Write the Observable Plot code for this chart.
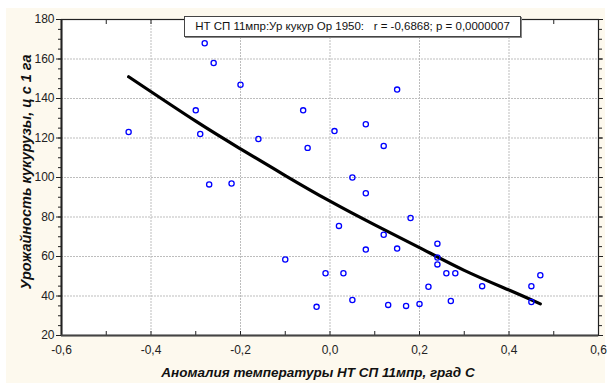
<!DOCTYPE html>
<html>
<head>
<meta charset="utf-8">
<script src="https://cdn.jsdelivr.net/npm/d3@7"></script>
<script src="https://cdn.jsdelivr.net/npm/@observablehq/plot@0.6"></script>
<style>
  body { margin: 0; background: #fff; font-family: Arial, "Liberation Sans", sans-serif; }
  #wrap { position: relative; width: 610px; height: 383px; overflow: hidden; background: #fff; }
  #cream { position: absolute; left: 6px; top: 8px; width: 599px; height: 375px; background: #fdf9ee; }
  #chart { position: absolute; left: 0; top: 0; }
  #title { position: absolute; left: 184px; top: 16px; width: 335px; height: 19px; border: 1px solid #444;
           background: #fff; font-size: 11.5px; line-height: 19px; text-align: center; white-space: pre; color: #111;
           box-shadow: 1px 1px 0 #888; }
  #ylab { position: absolute; left: 26px; top: 172px; transform: translate(-50%, -50%) rotate(-90deg);
          font-size: 14.5px; font-weight: bold; font-style: italic; white-space: nowrap; color: #111; }
  #xlab { position: absolute; left: 318px; top: 372px; transform: translate(-50%, -50%);
          font-size: 13.5px; font-weight: bold; font-style: italic; white-space: nowrap; color: #111; }
</style>
</head>
<body>
<div id="wrap">
  <div id="cream"></div>
  <div id="chart"></div>
  <div id="title">НТ СП 11мпр:Ур кукур Ор 1950:   r = -0,6868; p = 0,0000007</div>
  <div id="ylab">Урожайность кукурузы, ц с 1 га</div>
  <div id="xlab">Аномалия температуры НТ СП 11мпр, град С</div>
</div>
<script>
// Observations: temperature anomaly (x) and maize yield (y)
const anomaly = [-0.45, -0.28, -0.26, -0.20, -0.30, -0.29, -0.16, -0.27, -0.22, -0.10,
                 -0.06, -0.05, 0.01, 0.08, 0.15, 0.12, 0.05, 0.08, 0.18, 0.02,
                 0.12, 0.08, 0.15, -0.01, 0.03, -0.03, 0.05, 0.13, 0.17, 0.20,
                 0.22, 0.24, 0.24, 0.24, 0.26, 0.28, 0.27, 0.34, 0.45, 0.47, 0.45];
const yieldVals = [123, 168, 158, 147, 134, 122, 119.5, 96.5, 97, 58.5,
                   134, 115, 123.5, 127, 144.5, 116, 100, 92, 79.5, 75.5,
                   71, 63.5, 64, 51.5, 51.5, 34.5, 38, 35.5, 35, 36,
                   44.7, 66.5, 59.5, 56, 51.5, 51.5, 37.5, 45, 45, 50.5, 37];
// Fitted curve
const fitX = [-0.45, -0.3, -0.2, -0.1, 0, 0.1, 0.2, 0.3, 0.4, 0.47];
const fitY = [151, 128.5, 114.5, 101, 88, 76, 64.5, 53, 43, 36];
// Ticks
const xMajor = [-0.6, -0.4, -0.2, 0, 0.2, 0.4, 0.6];
const xMinor = [-0.5, -0.4, -0.3, -0.2, -0.1, 0, 0.1, 0.2, 0.3, 0.4, 0.5];
const xGrid = [-0.4, -0.2, 0, 0.2, 0.4];
const yMajor = [20, 40, 60, 80, 100, 120, 140, 160, 180];
const yGrid = [40, 60, 80, 100, 120, 140, 160];
const yMinor = d3.range(20, 181, 5);

const pts = anomaly.map((x, i) => ({x, y: yieldVals[i]}));
const fit = fitX.map((x, i) => ({x, y: fitY[i]}));
const fmt = d => d.toFixed(1).replace(".", ",").replace("-0,0", "0,0");

const plot = Plot.plot({
  width: 610, height: 383,
  marginLeft: 61, marginRight: 12, marginTop: 19, marginBottom: 48,
  style: {background: "transparent", fontFamily: "Arial, 'Liberation Sans', sans-serif", fontSize: "11.5px", color: "#222"},
  x: {domain: [-0.6, 0.6]},
  y: {domain: [20, 180]},
  marks: [
    Plot.frame({fill: "white", stroke: "none"}),
    Plot.gridX(xGrid, {stroke: "#bdbdbd", strokeOpacity: 1, strokeDasharray: "2,1"}),
    Plot.gridY(yGrid, {stroke: "#bdbdbd", strokeOpacity: 1, strokeDasharray: "2,1"}),
    Plot.axisY({ticks: yMajor, tickSize: 5, tickPadding: 2, tickFormat: d => String(d), stroke: "#222", label: null, fontSize: 12}),
    Plot.axisY({ticks: yMinor, tickSize: 3, tickFormat: () => "", stroke: "#222", label: null}),
    Plot.axisY({anchor: "right", ticks: yMinor, tickSize: 3, tickFormat: () => "", stroke: "#222", label: null}),
    Plot.axisY({anchor: "right", ticks: yMajor, tickSize: 4, tickFormat: () => "", stroke: "#222", label: null}),
    Plot.axisX({ticks: xMajor, tickSize: 0, tickPadding: 10, tickFormat: fmt, label: null, fontSize: 12}),
    Plot.axisX({ticks: xMinor, tickSize: -4, tickFormat: () => "", stroke: "#222", label: null}),
    Plot.axisX({anchor: "top", ticks: xMinor, tickSize: -4, tickFormat: () => "", stroke: "#222", label: null}),
    Plot.frame({stroke: "#222", strokeWidth: 1.2}),
    Plot.ruleX([-0.6], {stroke: "#222", strokeWidth: 2}),
    Plot.ruleY([20], {stroke: "#444", strokeWidth: 2.2}),
    Plot.line(fit, {x: "x", y: "y", curve: "natural", stroke: "black", strokeWidth: 3.2}),
    Plot.dot(pts, {x: "x", y: "y", r: 2.6, stroke: "#0000ff", strokeWidth: 1.3, fill: "none"})
  ]
});
document.getElementById("chart").appendChild(plot);
</script>
</body>
</html>
